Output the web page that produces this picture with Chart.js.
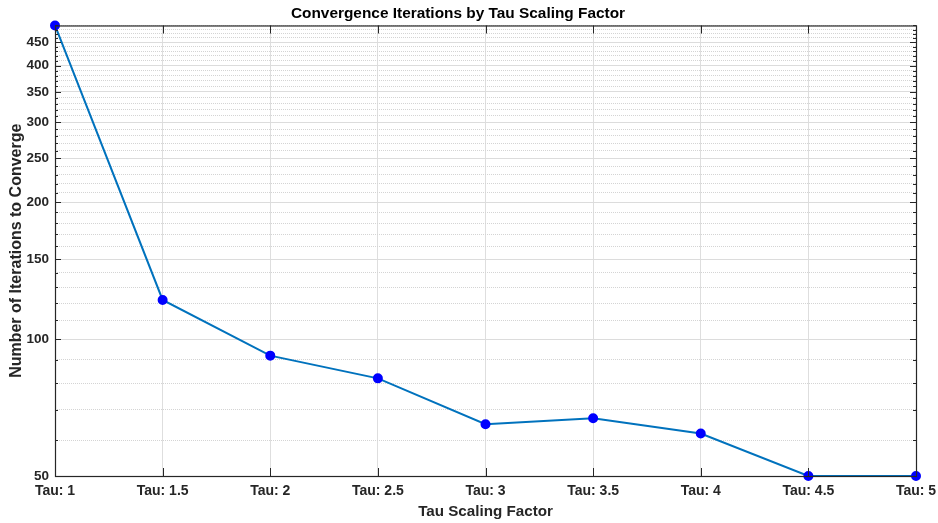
<!DOCTYPE html>
<html>
<head>
<meta charset="utf-8">
<script src="https://cdn.jsdelivr.net/npm/chart.js@4"></script>
<style>
  html, body { margin: 0; padding: 0; background: #fff; }
  #wrap { width: 938px; height: 523px; }
</style>
</head>
<body>
<div id="wrap"><canvas id="iterChart" width="938" height="523"></canvas></div>
<script>
// Tau values and the iterations needed to converge
const tauLabels = ['Tau: 1', 'Tau: 1.5', 'Tau: 2', 'Tau: 2.5', 'Tau: 3', 'Tau: 3.5', 'Tau: 4', 'Tau: 4.5', 'Tau: 5'];
const iterations = [490, 122, 92, 82, 65, 67, 62, 50, 50];

// Log axis: labelled ticks every 50, minor grid every 10
const yMin = 50;
const yMax = 490;
const yTicks = [];
for (let v = 50; v <= 490; v += 10) yTicks.push(v);

const axisColor = '#262626';
const fontFamily = '"Liberation Sans", Arial, Helvetica, sans-serif';

// To draw the box round the plot and inward tick marks
const boxPlugin = {
    id: 'boxTicks',
    afterDraw(chart) {
        const ctx = chart.ctx;
        const a = chart.chartArea;
        const xs = chart.scales.x;
        const ys = chart.scales.y;
        ctx.save();
        ctx.strokeStyle = axisColor;
        ctx.lineWidth = 1;
        ctx.beginPath();
        ys.ticks.forEach(t => {
            const y = Math.round(ys.getPixelForValue(t.value)) + 0.5;
            const len = t.value % 50 === 0 ? 6 : 3;
            ctx.moveTo(a.left, y); ctx.lineTo(a.left + len, y);
            ctx.moveTo(a.right, y); ctx.lineTo(a.right - len, y);
        });
        xs.ticks.forEach((t, i) => {
            const x = Math.round(xs.getPixelForValue(i)) + 0.5;
            ctx.moveTo(x, a.bottom); ctx.lineTo(x, a.bottom - 8);
            ctx.moveTo(x, a.top); ctx.lineTo(x, a.top + 8);
        });
        ctx.stroke();
        ctx.lineWidth = 1.2;
        ctx.strokeRect(a.left + 0.5, a.top + 0.5, a.right - a.left, a.bottom - a.top);
        ctx.restore();
    }
};

const ctx = document.getElementById('iterChart').getContext('2d');
new Chart(ctx, {
    type: 'line',
    data: {
        labels: tauLabels,
        datasets: [{
            data: iterations,
            borderColor: '#0072BD',
            borderWidth: 2,
            pointBackgroundColor: '#0000FF',
            pointBorderColor: '#0000FF',
            pointRadius: 4,
            tension: 0,
            clip: false
        }]
    },
    options: {
        responsive: false,
        animation: false,
        layout: { padding: { left: 0, right: 22, top: 0, bottom: 0 } },
        plugins: {
            legend: { display: false },
            tooltip: { enabled: false },
            title: {
                display: true,
                text: 'Convergence Iterations by Tau Scaling Factor',
                color: '#000',
                font: { family: fontFamily, size: 15.4, weight: 'bold' },
                padding: { top: 5, bottom: 2 }
            }
        },
        scales: {
            x: {
                type: 'category',
                offset: false,
                grid: { color: '#dedede', lineWidth: 1, drawTicks: false },
                border: { display: false },
                ticks: {
                    color: axisColor,
                    font: { family: fontFamily, size: 14, weight: 'bold' },
                    padding: 7,
                    maxRotation: 0,
                    autoSkip: false
                },
                title: {
                    display: true,
                    text: 'Tau Scaling Factor',
                    color: axisColor,
                    font: { family: fontFamily, size: 15.2, weight: 'bold' },
                    padding: { top: 0, bottom: 2 }
                },
                afterFit(scale) {
                    scale.height = 47;
                    scale.paddingLeft = 0;
                    scale.paddingRight = 0;
                }
            },
            y: {
                type: 'logarithmic',
                min: yMin,
                max: yMax,
                afterBuildTicks(scale) {
                    scale.ticks = yTicks.map(v => ({ value: v }));
                },
                grid: {
                    drawTicks: false,
                    color: c => (c.tick && c.tick.value % 50 === 0) ? '#dcdcdc' : '#d4d4d4',
                    lineWidth: 1
                },
                border: {
                    display: false,
                    dash: c => (c.tick && c.tick.value % 50 === 0) ? [] : [1, 1]
                },
                ticks: {
                    autoSkip: false,
                    color: axisColor,
                    font: { family: fontFamily, size: 13.5, weight: 'bold' },
                    padding: 6,
                    callback: v => (v % 50 === 0 ? String(v) : '')
                },
                title: {
                    display: true,
                    text: 'Number of Iterations to Converge',
                    color: axisColor,
                    font: { family: fontFamily, size: 16, weight: 'bold' },
                    padding: { top: 7, bottom: 0 }
                },
                afterFit(scale) {
                    scale.width = 55;
                    scale.paddingTop = 0;
                    scale.paddingBottom = 0;
                }
            }
        }
    },
    plugins: [boxPlugin]
});
</script>
</body>
</html>
